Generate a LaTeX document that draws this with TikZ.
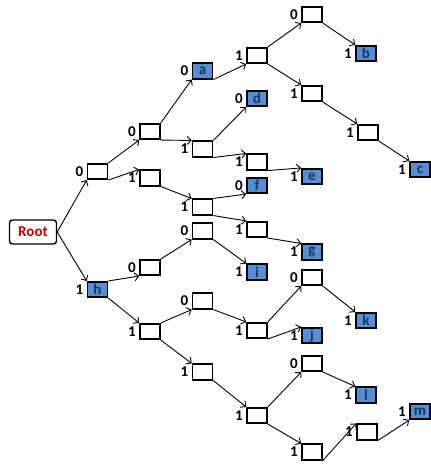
\documentclass[tikz,border=0pt]{standalone}
\usepackage{fontspec}
\setmainfont{Carlito}
\usetikzlibrary{arrows.meta}
\definecolor{leafblue}{RGB}{85,142,213}
\definecolor{leafink}{RGB}{23,55,94}
\definecolor{rootred}{RGB}{192,0,0}
\begin{document}
\begin{tikzpicture}[x=1pt,y=-1pt,
  font=\fontsize{15}{18}\selectfont\bfseries,
  >={Straight Barb[length=4pt,width=8pt]},
  box/.style={draw, line width=1.6pt, minimum width=20pt, minimum height=15.5pt, inner sep=0pt, label distance=3pt},
  leaf/.style={box, fill=leafblue, text=leafink},
  rootbox/.style={draw, line width=1.4pt, rounded corners=3pt, fill=white, minimum width=47pt, minimum height=24pt, text=rootred},
  edge/.style={->, line width=0.9pt}]
\useasboundingbox (0,0) rectangle (431,466);
\node[rootbox] (root) at (33,232) {Root};
\node[box,label=left:0] (n0) at (97.5,171.5) {};
\node[leaf,label=left:1] (h) at (97.5,289.5) {h};
\draw[edge] (root.east) -- (n0.south west);
\draw[edge] (root.east) -- (h.north west);
% upper half
\node[box,label=left:0] (n00) at (150,131.5) {};
\node[box,label=left:1] (n01) at (150,178) {};
\draw[edge] (n0.north east) -- (n00.south west);
\draw[edge] (n0.south east) -- (n01.north west);
\node[leaf,label=left:0] (a) at (202.5,71) {a};
\node[box,label=left:1] (n001) at (202.5,149) {};
\draw[edge] (n00.north east) -- (a.south west);
\draw[edge] (n00.south east) -- (n001.north west);
\node[box,label=left:1] (n0001) at (257,55.5) {};
\draw[edge] (a.south east) -- (n0001.south west);
\node[box,label=left:0] (n00010) at (312,14.5) {};
\node[box,label=left:1] (n00011) at (312,93.5) {};
\draw[edge] (n0001.north east) -- (n00010.south west);
\draw[edge] (n0001.south east) -- (n00011.north west);
\node[leaf,label=left:1] (b) at (366,53.5) {b};
\draw[edge] (n00010.south east) -- (b.north west);
\node[box,label=left:1] (n000111) at (368,132.5) {};
\draw[edge] (n00011.south east) -- (n000111.north west);
\node[leaf,label=left:1] (c) at (420,169.5) {c};
\draw[edge] (n000111.south east) -- (c.north west);
\node[leaf,label=left:0] (d) at (257,98.5) {d};
\node[box,label=left:1] (n0011) at (257,162) {};
\draw[edge] (n001.north east) -- (d.south west);
\draw[edge] (n001.south east) -- (n0011.north west);
\node[leaf,label=left:1] (e) at (312,176.5) {e};
\draw[edge] (n0011.south east) -- (e.north west);
\node[box,label=left:1] (n011) at (202.5,207) {};
\draw[edge] (n01.south east) -- (n011.north west);
\node[leaf,label=left:0] (f) at (257,185.5) {f};
\node[box,label=left:1] (n0111) at (257,229.5) {};
\draw[edge] (n011.north east) -- (f.south west);
\draw[edge] (n011.south east) -- (n0111.north west);
\node[leaf,label=left:1] (g) at (312,252) {g};
\draw[edge] (n0111.south east) -- (g.north west);
% lower half
\node[box,label=left:0] (n10) at (150,267.5) {};
\node[box,label=left:1] (n11) at (150,331.5) {};
\draw[edge] (h.north east) -- (n10.south west);
\draw[edge] (h.south east) -- (n11.north west);
\node[box,label=left:0] (n100) at (202.5,231) {};
\draw[edge] (n10.north east) -- (n100.south west);
\node[leaf,label=left:1] (i) at (257,272) {i};
\draw[edge] (n100.south east) -- (i.north west);
\node[box,label=left:0] (n110) at (202.5,301) {};
\node[box,label=left:1] (n111) at (202.5,372) {};
\draw[edge] (n11.north east) -- (n110.south west);
\draw[edge] (n11.south east) -- (n111.north west);
\node[box,label=left:1] (n1101) at (257,330.5) {};
\draw[edge] (n110.south east) -- (n1101.north west);
\node[box,label=left:0] (n11010) at (312,277.5) {};
\node[leaf,label=left:1] (j) at (312,335.5) {j};
\draw[edge] (n1101.north east) -- (n11010.south west);
\draw[edge] (n1101.south east) -- (j.north west);
\node[leaf,label=left:1] (k) at (366,320.5) {k};
\draw[edge] (n11010.south east) -- (k.north west);
\node[box,label=left:1] (n1111) at (257,415.5) {};
\draw[edge] (n111.south east) -- (n1111.north west);
\node[box,label=left:0] (n11110) at (312,363.5) {};
\node[box,label=left:1] (n11111) at (312,452) {};
\draw[edge] (n1111.north east) -- (n11110.south west);
\draw[edge] (n1111.south east) -- (n11111.north west);
\node[leaf,label=left:1] (l) at (366,395) {l};
\draw[edge] (n11110.south east) -- (l.north west);
\node[box,label=left:1] (n111111) at (367,432) {};
\draw[edge] (n11111.south east) -- (n111111.north west);
\node[leaf,label=left:1] (m) at (420,411.5) {m};
\draw[edge] (n111111.south east) -- (m.south west);
\end{tikzpicture}
\end{document}
